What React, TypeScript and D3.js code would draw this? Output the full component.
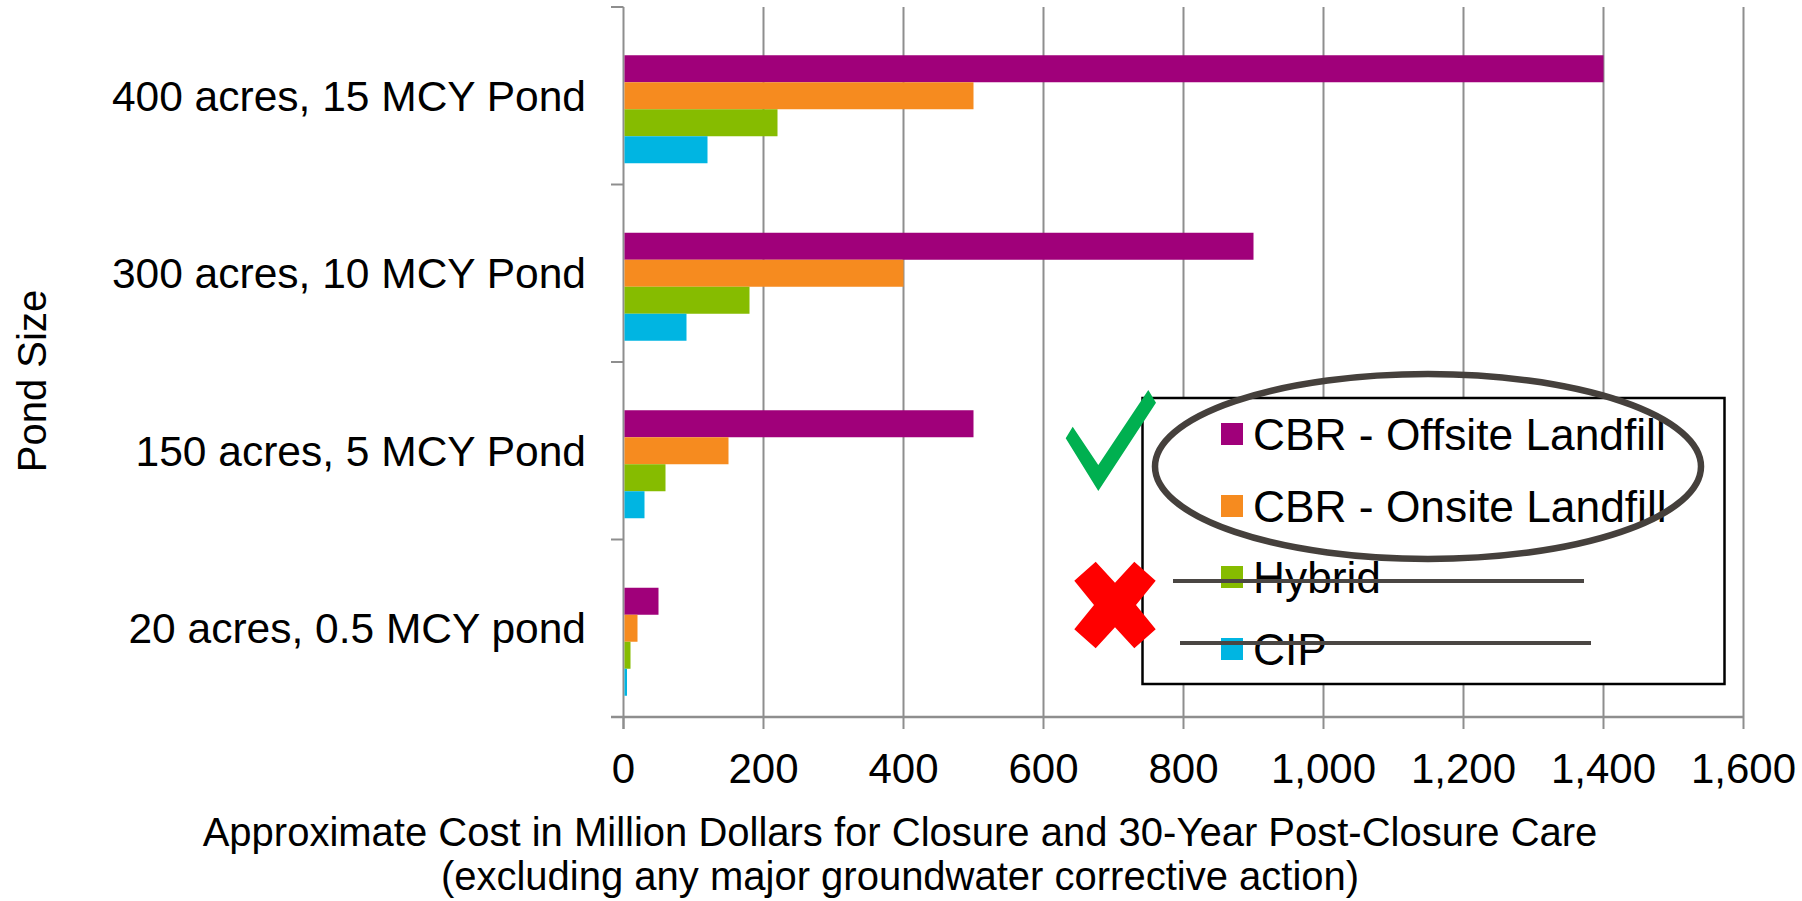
import React from "react";
import * as d3 from "d3";

const categories = [
  "400 acres, 15 MCY Pond",
  "300 acres, 10 MCY Pond",
  "150 acres, 5 MCY Pond",
  "20 acres, 0.5 MCY pond",
];
const seriesNames = [
  "CBR - Offsite Landfill",
  "CBR - Onsite Landfill",
  "Hybrid",
  "CIP",
];
const seriesColors = ["#A0007A", "#F68B1F", "#86BC00", "#00B5E2"];
const offsiteValues = [1400, 900, 500, 50];
const onsiteValues = [500, 400, 150, 20];
const hybridValues = [220, 180, 60, 10];
const cipValues = [120, 90, 30, 5];
const xTicks = [0, 200, 400, 600, 800, 1000, 1200, 1400, 1600];

const seriesValues = [offsiteValues, onsiteValues, hybridValues, cipValues];

const FONT = "'Liberation Sans', Arial, sans-serif";

export default function App() {
  const W = 1802;
  const H = 901;
  const x = d3.scaleLinear().domain([0, 1600]).range([623.5, 1743.5]);
  const y = d3.scaleBand<string>().domain(categories).range([7, 717]).padding(0);
  // slot 0 is an empty placeholder series (as in the source chart)
  const slots = ["", ...seriesNames];
  const ySub = d3
    .scaleBand<string>()
    .domain(slots)
    .range([0, y.bandwidth()])
    .paddingInner(0)
    .paddingOuter(0.787);
  const fmt = d3.format(",");
  const gridColor = "#8E8E8E";

  const legendY = [434, 506, 577, 649];

  return (
    <svg
      width={W}
      height={H}
      style={{ position: "absolute", left: 0, top: 0, background: "#fff" }}
      fontFamily={FONT}
    >
      <rect x={0} y={0} width={W} height={H} fill="#fff" />
      {/* vertical gridlines */}
      {xTicks.slice(1).map((t) => (
        <line key={"g" + t} x1={x(t)} x2={x(t)} y1={7} y2={717} stroke={gridColor} strokeWidth={2} />
      ))}
      {/* x tick marks */}
      {xTicks.map((t) => (
        <line key={"xt" + t} x1={x(t)} x2={x(t)} y1={717} y2={729} stroke={gridColor} strokeWidth={2} />
      ))}
      {/* y axis */}
      <line x1={x(0)} x2={x(0)} y1={7} y2={729} stroke={gridColor} strokeWidth={2} />
      {[...categories.map((c) => y(c) as number), 717].map((v, i) => (
        <line key={"yt" + i} x1={611} x2={x(0)} y1={v} y2={v} stroke={gridColor} strokeWidth={2} />
      ))}
      {/* bars */}
      {categories.map((c, ci) =>
        seriesNames.map((s, si) => (
          <rect
            key={c + s}
            x={x(0) + 1}
            y={(y(c) as number) + (ySub(s) as number)}
            width={x(seriesValues[si][ci]) - x(0) - 1}
            height={ySub.bandwidth()}
            fill={seriesColors[si]}
          />
        ))
      )}
      {/* x axis line */}
      <line x1={611} x2={x(1600)} y1={717} y2={717} stroke={gridColor} strokeWidth={2.5} />
      {/* x tick labels */}
      {xTicks.map((t) => (
        <text key={"xl" + t} x={x(t)} y={783} fontSize={42} textAnchor="middle" fill="#000">
          {fmt(t)}
        </text>
      ))}
      {/* category labels */}
      {categories.map((c) => (
        <text
          key={"cl" + c}
          x={586}
          y={(y(c) as number) + y.bandwidth() / 2 + 15}
          fontSize={42.5}
          textAnchor="end"
          fill="#000"
        >
          {c}
        </text>
      ))}
      {/* axis titles */}
      <text transform="translate(46,381) rotate(-90)" fontSize={40} textAnchor="middle" fill="#000">
        Pond Size
      </text>
      <text x={900} y={846} fontSize={40} textAnchor="middle" fill="#000">
        Approximate Cost in Million Dollars for Closure and 30-Year Post-Closure Care
      </text>
      <text x={900} y={890} fontSize={40} textAnchor="middle" fill="#000">
        (excluding any major groundwater corrective action)
      </text>
      {/* legend */}
      <rect x={1142.5} y={398} width={582} height={286} fill="#fff" stroke="#000" strokeWidth={2.5} />
      {seriesNames.map((s, i) => (
        <g key={"lg" + s}>
          <rect x={1221} y={legendY[i] - 11} width={22} height={22} fill={seriesColors[i]} />
          <text x={1253} y={legendY[i] + 16} fontSize={44.3} fill="#000">
            {s}
          </text>
        </g>
      ))}
      {/* strike-through lines */}
      <line x1={1173} x2={1584} y1={581} y2={581} stroke="#4A4643" strokeWidth={4} />
      <line x1={1180} x2={1591} y1={643} y2={643} stroke="#4A4643" strokeWidth={4} />
      {/* ellipse highlight */}
      <ellipse cx={1428} cy={466.5} rx={273} ry={92.5} fill="none" stroke="#45403C" strokeWidth={6.5} />
      {/* green check */}
      <polygon
        points="1065.7,438.3 1072.7,426.7 1098.3,465 1148.3,390 1156,402.7 1098.3,491"
        fill="#00B050"
      />
      {/* red X */}
      <polygon
        points="1095.7,561.7 1115,582.7 1134.3,561.7 1155.7,580.7 1136,605 1155.7,629.3 1134.3,648.3 1115,627.3 1095.7,648.3 1074.3,629.3 1094,605 1074.3,580.7"
        fill="#FF0000"
      />
    </svg>
  );
}
